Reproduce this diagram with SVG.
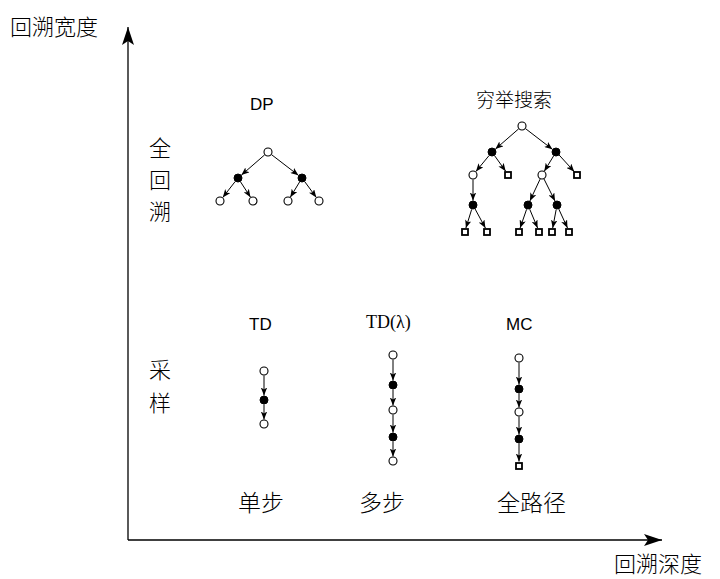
<svg xmlns="http://www.w3.org/2000/svg" width="720" height="579" viewBox="0 0 720 579">
<style>
.o{fill:#fff;stroke:#000;stroke-width:1.1}
.b{fill:#000;stroke:#000;stroke-width:1}
.s{fill:#fff;stroke:#000;stroke-width:1.8}
.e{stroke:#000;stroke-width:1;fill:none;marker-end:url(#ah)}
.ax{stroke:#000;stroke-width:1.3;fill:none;marker-end:url(#axh)}
.cjk{font-family:"Noto Sans CJK SC","Liberation Sans",sans-serif;font-size:23px;font-weight:300;fill:#000}
.v{font-size:22px}
.lat{font-family:"Liberation Sans",Arial,sans-serif;font-size:17px;fill:#000}
</style>
<defs>
<marker id="ah" viewBox="0 0 10 8" refX="10" refY="4" markerWidth="8" markerHeight="6.4" orient="auto" markerUnits="userSpaceOnUse"><path d="M0,0 L10,4 L0,8 L2.5,4 z" fill="#000"/></marker>
<marker id="axh" viewBox="0 0 10 18" refX="18" refY="9" markerWidth="18" markerHeight="18" orient="auto" markerUnits="userSpaceOnUse" overflow="visible"><path d="M0,3 L18,9 L0,15 L4,9 z" fill="#000"/></marker>
</defs>
<rect width="720" height="579" fill="#fff"/>
<g id="axes">
<line class="ax" x1="128" y1="540" x2="128" y2="27"/>
<line class="ax" x1="128" y1="540" x2="662" y2="540"/>
</g>
<g id="labels">
<text class="cjk v" x="10" y="35">回溯宽度</text>
<text class="cjk v" x="614" y="572">回溯深度</text>
<text class="cjk v" x="149" y="156">全</text>
<text class="cjk v" x="149" y="188">回</text>
<text class="cjk v" x="149" y="220">溯</text>
<text class="cjk v" x="149" y="378">采</text>
<text class="cjk v" x="149" y="411">样</text>
<text class="cjk" x="238" y="511">单步</text>
<text class="cjk" x="359" y="511">多步</text>
<text class="cjk" x="497" y="511">全路径</text>
<text class="lat" x="250" y="110">DP</text>
<text class="cjk" x="476" y="107" style="font-size:19px">穷举搜索</text>
<text class="lat" x="249" y="330">TD</text>
<text x="366" y="328" style="font-family:'Liberation Serif',serif;font-size:18px">TD(λ)</text>
<text class="lat" x="506" y="330">MC</text>
</g>
<g id="connectors">
<line class="e" x1="264.6" y1="154.9" x2="241.4" y2="175.1"/>
<line class="e" x1="271.6" y1="154.7" x2="298.4" y2="175.3"/>
<line class="e" x1="235.2" y1="181.5" x2="222.8" y2="197.4"/>
<line class="e" x1="240.5" y1="181.8" x2="250.5" y2="197.2"/>
<line class="e" x1="299.7" y1="181.8" x2="290.3" y2="197.2"/>
<line class="e" x1="304.7" y1="181.6" x2="316.3" y2="197.4"/>
<line class="e" x1="518.6" y1="128.9" x2="495.4" y2="149.1"/>
<line class="e" x1="525.6" y1="128.7" x2="552.4" y2="149.3"/>
<line class="e" x1="489.1" y1="155.5" x2="475.9" y2="171.5"/>
<line class="e" x1="494.6" y1="155.7" x2="505.7" y2="171.2"/>
<line class="e" x1="553.7" y1="155.8" x2="544.3" y2="171.2"/>
<line class="e" x1="559" y1="154.9" x2="574.3" y2="171.7"/>
<line class="e" x1="473" y1="179.5" x2="473" y2="200.5"/>
<line class="e" x1="540.1" y1="179.1" x2="529.9" y2="200.9"/>
<line class="e" x1="544" y1="179" x2="555" y2="201"/>
<line class="e" x1="471.7" y1="209.3" x2="465.9" y2="228"/>
<line class="e" x1="475.1" y1="209" x2="485.4" y2="228"/>
<line class="e" x1="526.6" y1="209.3" x2="520.1" y2="228"/>
<line class="e" x1="529.7" y1="209.2" x2="537.6" y2="228"/>
<line class="e" x1="556.2" y1="209.4" x2="552.7" y2="228"/>
<line class="e" x1="558.8" y1="209.1" x2="567.5" y2="228"/>
<line class="e" x1="264" y1="375.5" x2="264" y2="395.5"/>
<line class="e" x1="264" y1="404.5" x2="264" y2="419.5"/>
<line class="e" x1="393" y1="359.5" x2="393" y2="380.5"/>
<line class="e" x1="393" y1="389.5" x2="393" y2="405.5"/>
<line class="e" x1="393" y1="414.5" x2="393" y2="432.5"/>
<line class="e" x1="393" y1="441.5" x2="393" y2="456.5"/>
<line class="e" x1="519" y1="362.5" x2="519" y2="384.5"/>
<line class="e" x1="519" y1="393.5" x2="519" y2="407.5"/>
<line class="e" x1="519" y1="416.5" x2="519" y2="434.5"/>
<line class="e" x1="519" y1="443.5" x2="519" y2="461.5"/>
</g>
<g id="dp-tree">
<circle class="o" cx="268" cy="152" r="4"/>
<circle class="b" cx="238" cy="178" r="4"/>
<circle class="b" cx="302" cy="178" r="4"/>
<circle class="o" cx="220" cy="201" r="4"/>
<circle class="o" cx="253" cy="201" r="4"/>
<circle class="o" cx="288" cy="201" r="4"/>
<circle class="o" cx="319" cy="201" r="4"/>
</g>
<g id="exhaustive-tree">
<circle class="o" cx="522" cy="126" r="4"/>
<circle class="b" cx="492" cy="152" r="4"/>
<circle class="b" cx="556" cy="152" r="4"/>
<circle class="o" cx="473" cy="175" r="4"/>
<rect class="s" x="505" y="172" width="6" height="6"/>
<circle class="o" cx="542" cy="175" r="4"/>
<rect class="s" x="574" y="172" width="6" height="6"/>
<circle class="b" cx="473" cy="205" r="4"/>
<circle class="b" cx="528" cy="205" r="4"/>
<circle class="b" cx="557" cy="205" r="4"/>
<rect class="s" x="462" y="229" width="6" height="6"/>
<rect class="s" x="484" y="229" width="6" height="6"/>
<rect class="s" x="516" y="229" width="6" height="6"/>
<rect class="s" x="536" y="229" width="6" height="6"/>
<rect class="s" x="549" y="229" width="6" height="6"/>
<rect class="s" x="566" y="229" width="6" height="6"/>
</g>
<g id="td-chain">
<circle class="o" cx="264" cy="371" r="4"/>
<circle class="b" cx="264" cy="400" r="4"/>
<circle class="o" cx="264" cy="424" r="4"/>
</g>
<g id="tdl-chain">
<circle class="o" cx="393" cy="355" r="4"/>
<circle class="b" cx="393" cy="385" r="4"/>
<circle class="o" cx="393" cy="410" r="4"/>
<circle class="b" cx="393" cy="437" r="4"/>
<circle class="o" cx="393" cy="461" r="4"/>
</g>
<g id="mc-chain">
<circle class="o" cx="519" cy="358" r="4"/>
<circle class="b" cx="519" cy="389" r="4"/>
<circle class="o" cx="519" cy="412" r="4"/>
<circle class="b" cx="519" cy="439" r="4"/>
<rect class="s" x="516" y="463" width="6" height="6"/>
</g>
</svg>
